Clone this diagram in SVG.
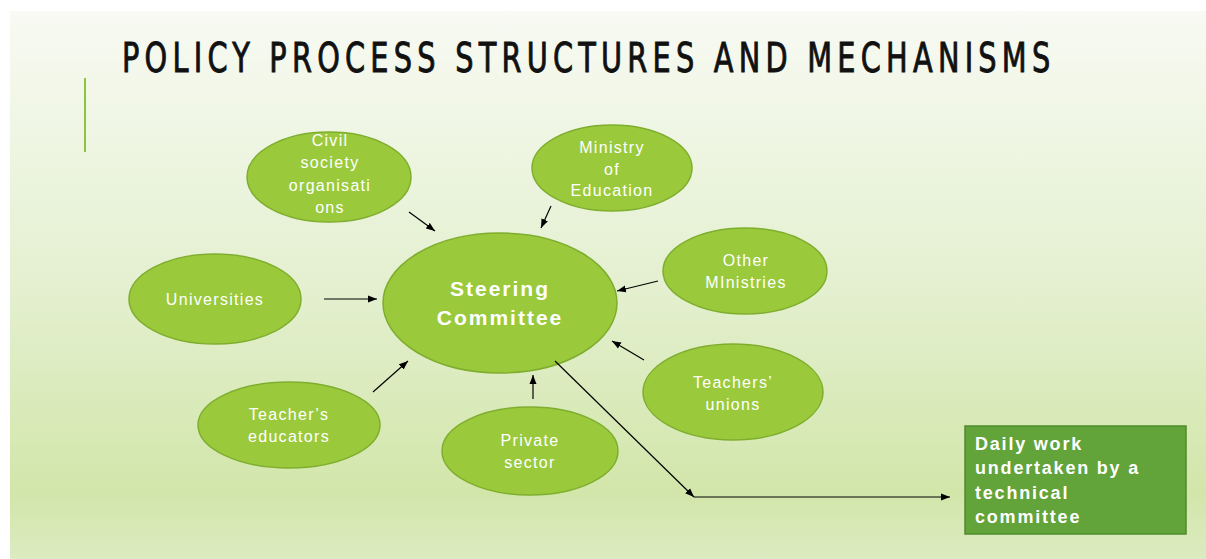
<svg xmlns="http://www.w3.org/2000/svg" width="1206" height="559" viewBox="0 0 1206 559">
<defs>
<linearGradient id="bg" x1="0" y1="0" x2="0" y2="1">
<stop offset="0" stop-color="#f8faf3"/>
<stop offset="0.5" stop-color="#e4f0d0"/>
<stop offset="0.88" stop-color="#d2e6aa"/>
<stop offset="1" stop-color="#dcebc1"/>
</linearGradient>
<marker id="ah" markerUnits="userSpaceOnUse" markerWidth="10" markerHeight="8" refX="9" refY="4" orient="auto">
<path d="M0,0.5 L9,4 L0,7.5 Z" fill="#000"/>
</marker>
<style>
.node ellipse{fill:#9aca3c;stroke:#7fae2e;stroke-width:1.5}
.lbl{font-family:"Liberation Sans","DejaVu Sans",sans-serif;font-size:16px;fill:#fff;text-anchor:middle;letter-spacing:1.3px}
.big{font-family:"Liberation Sans","DejaVu Sans",sans-serif;font-size:21px;font-weight:bold;fill:#fff;text-anchor:middle;letter-spacing:2px}
.box{font-family:"Liberation Sans","DejaVu Sans",sans-serif;font-size:18px;font-weight:bold;fill:#fff;letter-spacing:1.8px}
.con line{stroke:#000;stroke-width:1.2;marker-end:url(#ah)}
</style>
</defs>
<rect x="0" y="0" width="1206" height="559" fill="#fff"/>
<rect x="10" y="11" width="1196" height="548" fill="url(#bg)"/>
<text transform="scale(0.78,1)" x="156.4" y="72" font-family="'DejaVu Sans Condensed','Liberation Sans',sans-serif" font-size="41" fill="#111" stroke="#111" stroke-width="0.9" textLength="1190" lengthAdjust="spacing">POLICY PROCESS STRUCTURES AND MECHANISMS</text>
<line x1="85" y1="78" x2="85" y2="152" stroke="#8cc43c" stroke-width="2"/>

<g id="civil" class="node"><ellipse cx="329" cy="177" rx="82" ry="45"/>
<text class="lbl" x="330" y="146">Civil</text><text class="lbl" x="330" y="168">society</text><text class="lbl" x="330" y="191">organisati</text><text class="lbl" x="330" y="213">ons</text></g>
<g id="moe" class="node"><ellipse cx="612" cy="168" rx="80" ry="43"/>
<text class="lbl" x="612" y="153">Ministry</text><text class="lbl" x="612" y="175">of</text><text class="lbl" x="612" y="196">Education</text></g>
<g id="univ" class="node"><ellipse cx="215" cy="299" rx="86" ry="45"/>
<text class="lbl" x="215" y="305">Universities</text></g>
<g id="steering" class="node"><ellipse cx="500" cy="303" rx="117" ry="70"/>
<text class="big" x="500" y="296">Steering</text><text class="big" x="500" y="325">Committee</text></g>
<g id="other" class="node"><ellipse cx="745" cy="271" rx="82" ry="43"/>
<text class="lbl" x="746" y="266">Other</text><text class="lbl" x="746" y="288">MInistries</text></g>
<g id="unions" class="node"><ellipse cx="733" cy="392" rx="90" ry="48"/>
<text class="lbl" x="733" y="388">Teachers’</text><text class="lbl" x="733" y="410">unions</text></g>
<g id="educators" class="node"><ellipse cx="289" cy="425" rx="91" ry="43"/>
<text class="lbl" x="289" y="420">Teacher’s</text><text class="lbl" x="289" y="442">educators</text></g>
<g id="private" class="node"><ellipse cx="530" cy="451" rx="88" ry="44"/>
<text class="lbl" x="530" y="446">Private</text><text class="lbl" x="530" y="468">sector</text></g>
<g id="technical"><rect x="965" y="426" width="221" height="108" fill="#62a33a" stroke="#4f8a2c" stroke-width="1.5"/>
<text class="box" x="975" y="450">Daily work</text><text class="box" x="975" y="474">undertaken by a</text><text class="box" x="975" y="499">technical</text><text class="box" x="975" y="523">committee</text></g>

<g id="connectors" class="con">
<line x1="409" y1="212" x2="435" y2="231"/>
<line x1="551" y1="206" x2="541" y2="228"/>
<line x1="324" y1="299" x2="377" y2="299"/>
<line x1="658" y1="281" x2="617" y2="291"/>
<line x1="644" y1="360" x2="612" y2="341"/>
<line x1="373" y1="392" x2="408" y2="361"/>
<line x1="533" y1="399" x2="533" y2="375"/>
<line x1="555" y1="361" x2="694" y2="497"/>
<line x1="694" y1="497" x2="950" y2="497"/>
</g>
</svg>
